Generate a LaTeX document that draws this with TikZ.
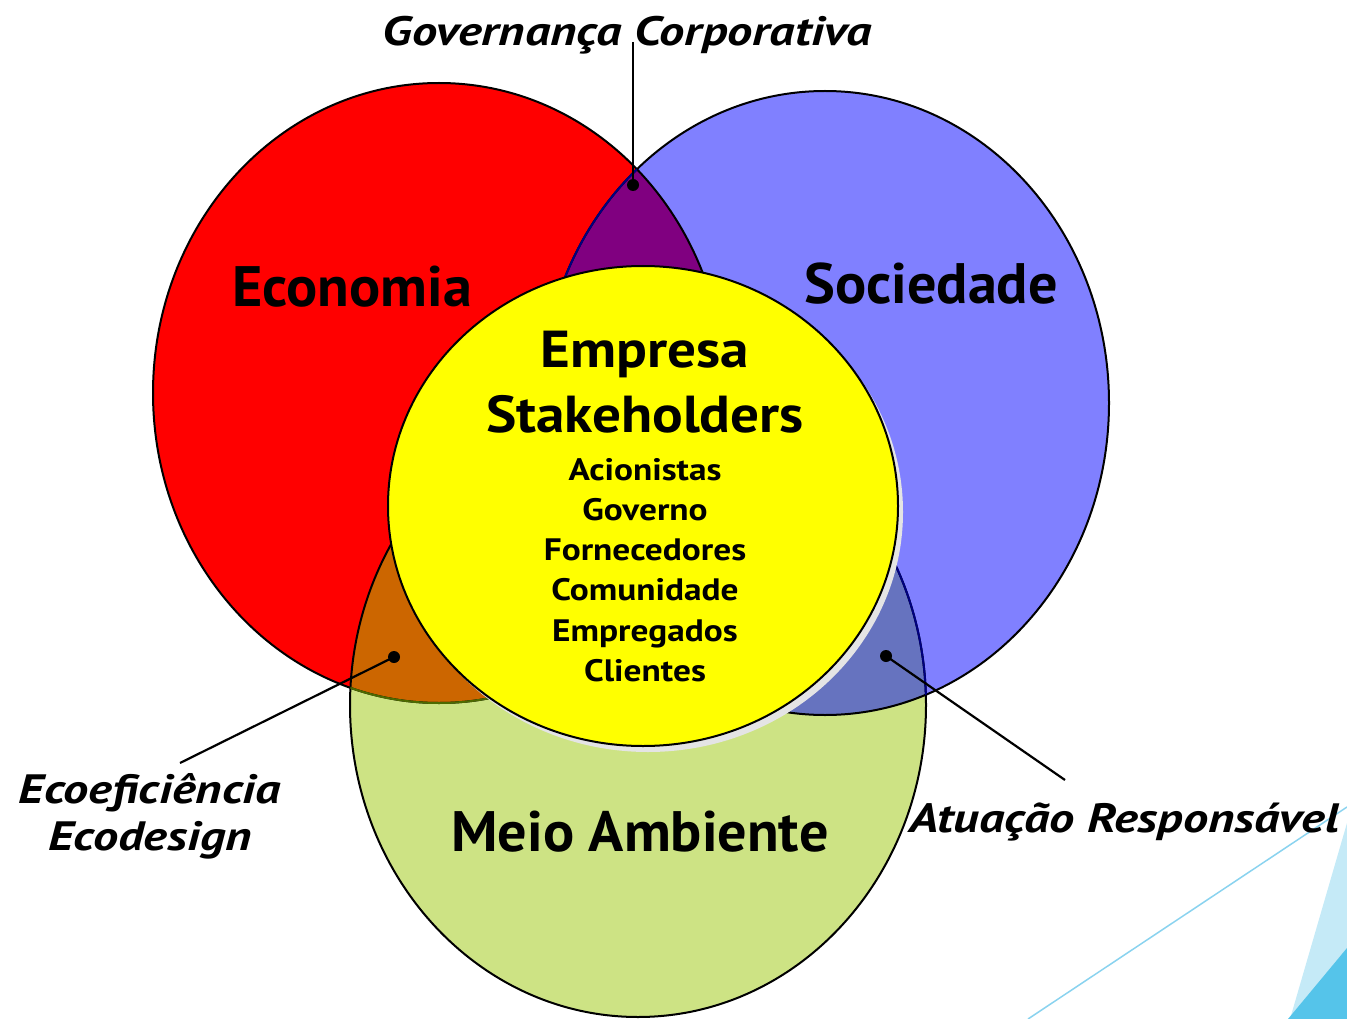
\documentclass[tikz,border=0pt]{standalone}
\usepackage{fontspec}
\setmainfont{PT Sans}
\newfontfamily\fbig{PT Sans}[FakeStretch=1.02]
\newfontfamily\fmid{PT Sans}[FakeStretch=1.1]
\newfontfamily\flist{PT Sans}[FakeStretch=1.14]
\newfontfamily\flab{PT Sans}[FakeStretch=1.23]
\definecolor{cred}{HTML}{FF0000}
\definecolor{cblue}{HTML}{8080FF}
\definecolor{cgreen}{HTML}{CDE384}
\definecolor{cpurple}{HTML}{800080}
\definecolor{corange}{HTML}{CC6600}
\definecolor{cslate}{HTML}{6673BF}
\definecolor{cnavy}{HTML}{000080}
\definecolor{cdkgreen}{HTML}{4D6A00}
\definecolor{cshadow}{HTML}{E4E4E4}
\definecolor{clight}{HTML}{C5EAF7}
\definecolor{cdeco}{HTML}{55C4EA}
\definecolor{cline}{HTML}{8AD3EF}
\definecolor{cyel}{HTML}{FFFF00}
\tikzset{
  outline/.style={line width=2pt},
  bigtext/.style={font=\fbig\bfseries\fontsize{57}{57}\selectfont, anchor=base},
  midtext/.style={font=\fmid\bfseries\fontsize{52}{52}\selectfont, anchor=base},
  listtext/.style={font=\flist\bfseries\fontsize{31}{31}\selectfont, anchor=base},
  labtext/.style={font=\flab\bfseries\itshape\fontsize{41}{41}\selectfont, anchor=base},
  dotnode/.style={circle, fill=black, inner sep=0pt, minimum size=12pt},
  leader/.style={line width=2.2pt},
}
\begin{document}
\begin{tikzpicture}[x=1pt,y=-1pt]
\useasboundingbox (0,0) rectangle (1347,1019);
% decoration bottom right
\fill[clight] (1290,1019) -- (1347,823) -- (1347,1019) -- cycle;
\fill[cdeco] (1288,1019) -- (1347,948) -- (1347,1019) -- cycle;
\coordinate (dA) at (1028,1019);
\coordinate (dB) at (1347,807);
\draw[cline, line width=1.5pt] (dA) -- (dB);
% big ellipses
\def\Red{(439,393) ellipse [x radius=286, y radius=310]}
\def\Blue{(825,403) ellipse [x radius=284, y radius=312]}
\def\Green{(638,705) ellipse [x radius=288, y radius=312]}
\fill[cred] \Red;
\fill[cblue] \Blue;
\fill[cgreen] \Green;
\begin{scope}\clip \Red; \fill[cpurple] \Blue; \fill[corange] \Green; \end{scope}
\begin{scope}\clip \Blue; \fill[cslate] \Green; \end{scope}
\draw[outline] \Red;
\draw[outline] \Blue;
\draw[outline] \Green;
\begin{scope}\clip \Red; \draw[outline, cnavy] \Blue; \end{scope}
\begin{scope}\clip \Green; \draw[outline, cdkgreen] \Red; \end{scope}
\begin{scope}\clip \Blue; \draw[outline, cnavy] \Green; \end{scope}
% yellow
\fill[cshadow] (648,512) ellipse [x radius=255, y radius=240];
\filldraw[fill=cyel, outline] (643,506) ellipse [x radius=255, y radius=240];
% texts
\node[bigtext] (eco) at (352,306) {Economia};
\node[bigtext] (soc) at (931,303) {Sociedade};
\node[bigtext] (meio) at (640,851) {Meio Ambiente};
\node[midtext] (emp) at (645,367) {Empresa};
\node[midtext] (stk) at (645,432) {Stakeholders};
\node[listtext] (l1) at (645,480) {Acionistas};
\node[listtext] (l2) at (645,520) {Governo};
\node[listtext] (l3) at (645,560) {Fornecedores};
\node[listtext] (l4) at (645,600) {Comunidade};
\node[listtext] (l5) at (645,641) {Empregados};
\node[listtext] (l6) at (645,681) {Clientes};
\node[labtext] (gov) at (627,46) {Governança Corporativa};
\node[labtext] (ecoef) at (150,803) {Ecoeficiência};
\node[labtext] (ecod) at (150,850) {Ecodesign};
\node[labtext] (atu) at (1124,832) {Atuação Responsável};
% dots and leaders
\node[dotnode] (d1) at (633,185) {};
\node[dotnode] (d2) at (394,657) {};
\node[dotnode] (d3) at (886,656) {};
\coordinate (g1) at (633,42);
\coordinate (e1) at (180,763);
\coordinate (a1) at (1065,780);
\draw[leader] (g1) -- (d1.center);
\draw[leader] (e1) -- (d2.center);
\draw[leader] (a1) -- (d3.center);
\end{tikzpicture}
\end{document}
